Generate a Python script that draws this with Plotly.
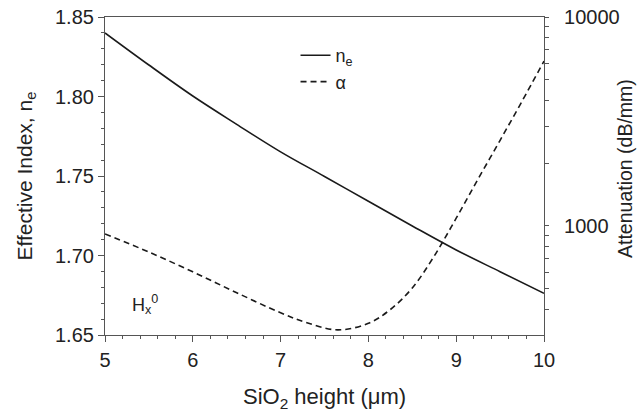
import plotly.graph_objects as go

# SiO2 height (um)
height_ne = [5.0, 5.5, 6.0, 6.5, 7.0, 7.5, 8.0, 8.5, 9.0, 9.5, 10.0]
n_e = [1.840, 1.8198, 1.8003, 1.7825, 1.7652, 1.7497, 1.7341, 1.7186, 1.7035, 1.6898, 1.6762]

height_alpha = [5.0, 5.5, 6.0, 6.5, 7.0, 7.3, 7.65, 8.0, 8.25, 8.5, 8.75, 9.0, 9.25, 9.5, 9.75, 10.0]
alpha = [916, 750, 603, 479, 384, 344, 318, 342, 398, 505, 718, 1089, 1679, 2570, 3954, 6150]

x_ticks = [5, 6, 7, 8, 9, 10]
y_ticks = [1.65, 1.70, 1.75, 1.80, 1.85]
att_ticks = [300, 400, 500, 600, 700, 800, 900, 1000, 2000, 3000, 4000, 5000,
             6000, 7000, 8000, 9000, 10000]
att_labels = ["" if v not in (1000, 10000) else str(v) for v in att_ticks]

FONT = "Liberation Sans, Arial, sans-serif"
AX = "#555555"
TXT = "#222222"

fig = go.Figure()
fig.add_trace(go.Scatter(x=height_ne, y=n_e, mode="lines", name="n<sub>e</sub>",
                         line=dict(color="#1a1a1a", width=1.6, shape="spline"),
                         yaxis="y"))
fig.add_trace(go.Scatter(x=height_alpha, y=alpha, mode="lines", name="α",
                         line=dict(color="#1a1a1a", width=1.6, dash="6px,4px", shape="spline"),
                         yaxis="y2"))

fig.update_layout(
    width=638, height=417,
    margin=dict(l=105, r=93.5, t=17, b=82, autoexpand=False),
    paper_bgcolor="white", plot_bgcolor="white",
    font=dict(family=FONT, size=18, color=TXT),
    showlegend=True,
    legend=dict(x=0.434, y=0.937, xanchor="left", yanchor="top",
                bgcolor="rgba(0,0,0,0)", font=dict(size=18),
                tracegroupgap=0),
    xaxis=dict(range=[5, 10], tickvals=x_ticks, ticks="outside", ticklen=6,
               tickcolor=AX, showline=True, linecolor=AX, linewidth=1.2,
               mirror=True, showgrid=False, zeroline=False, automargin=False,
               minor=dict(dtick=0.2, ticks="outside", ticklen=3, tickcolor=AX),
               ticklabelstandoff=1, ticklabeloverflow="allow",
               tickfont=dict(size=20)),
    yaxis=dict(range=[1.65, 1.85], tickvals=y_ticks, tickformat=".2f",
               ticks="outside", ticklen=6, tickcolor=AX, showline=True,
               linecolor=AX, linewidth=1.2, showgrid=False, zeroline=False,
               automargin=False, ticklabeloverflow="allow",
               minor=dict(dtick=0.01, ticks="outside", ticklen=3, tickcolor=AX),
               tickfont=dict(size=20)),
    yaxis2=dict(type="log", range=[2.478, 4.0], overlaying="y", side="right",
                tickvals=att_ticks, ticktext=att_labels, ticks="outside",
                ticklen=4, tickcolor=AX, showline=True, linecolor=AX,
                linewidth=1.2, showgrid=False, zeroline=False, automargin=False,
                ticklabelstandoff=11, ticklabeloverflow="allow",
                tickfont=dict(size=20)),
)

# axis titles
fig.add_annotation(x=0.5, y=0, xref="paper", yref="paper", yshift=-63,
                   xanchor="center", yanchor="middle",
                   text="SiO<sub>2</sub> height (μm)", showarrow=False,
                   font=dict(size=22, color=TXT))
fig.add_annotation(x=0, y=0.5, xref="paper", yref="paper", xshift=-79.5,
                   xanchor="center", yanchor="middle",
                   text="Effective Index, n<sub>e</sub>", textangle=-90,
                   showarrow=False, font=dict(size=21, color=TXT))
fig.add_annotation(x=1.0, y=0.5, xref="paper", yref="paper", xshift=81, yshift=7,
                   xanchor="center", yanchor="middle",
                   text="Attenuation (dB/mm)", textangle=-90, showarrow=False,
                   font=dict(size=19.5, color=TXT))

fig.add_annotation(x=5.46, y=1.669, xref="x", yref="y",
                   xanchor="center", yanchor="middle",
                   text="H<sub>x</sub><sup>0</sup>", showarrow=False,
                   font=dict(size=18, color=TXT))

# remove the browser's default 8px body margin so the figure sits at (0, 0)
fig.write_html("out.html", config={"displayModeBar": False},
               post_script="document.body.style.margin='0';")
